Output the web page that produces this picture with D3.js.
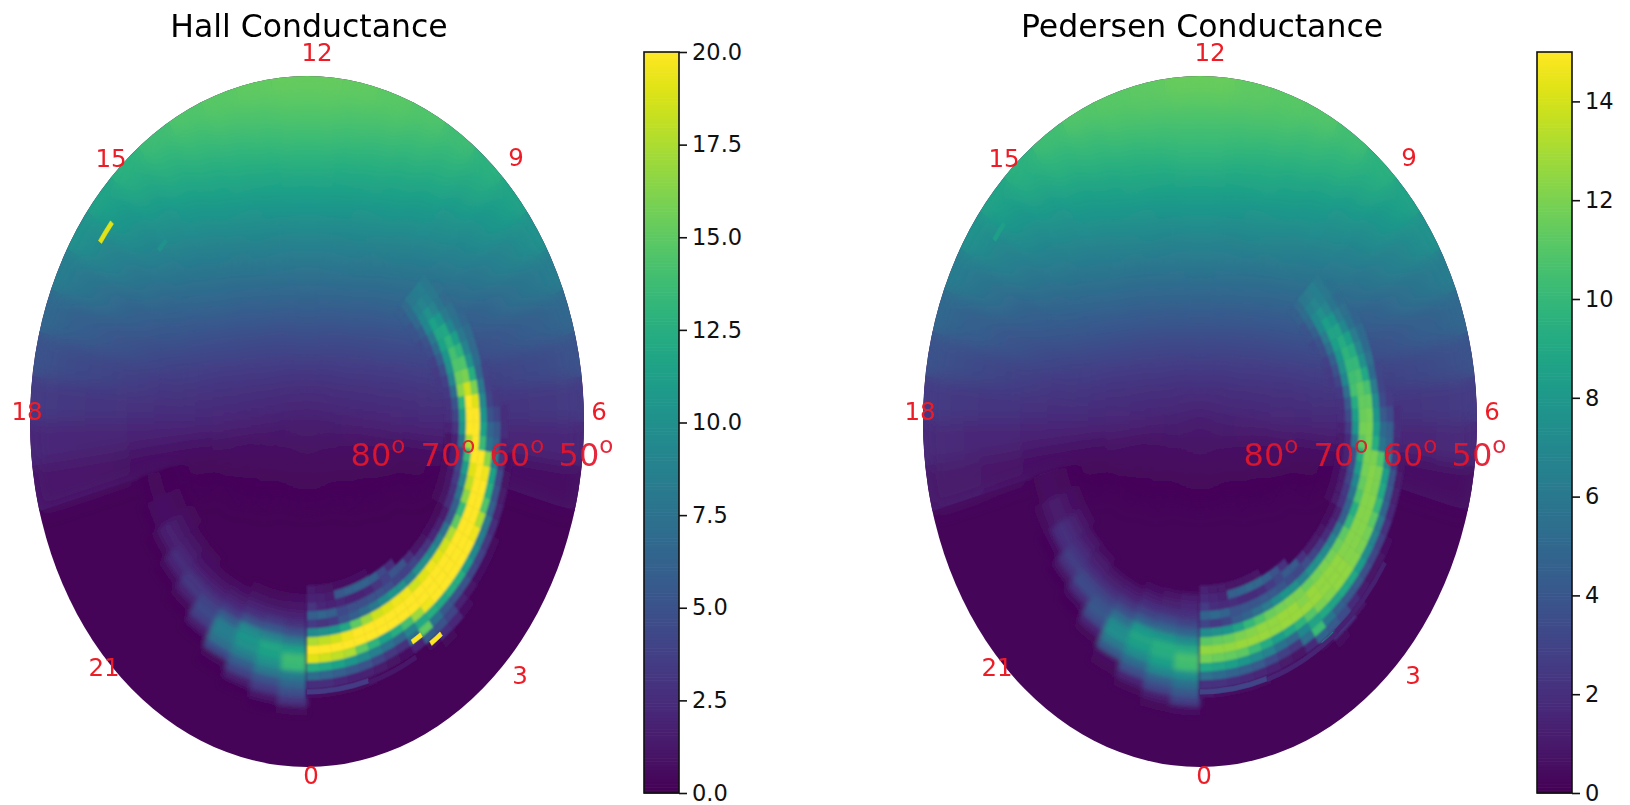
<!DOCTYPE html>
<html><head><meta charset="utf-8">
<script src="https://cdn.jsdelivr.net/npm/d3@7"></script>
<style>html,body{margin:0;background:#fff}svg{display:block}text{font-family:"DejaVu Sans",sans-serif}</style>
</head><body><svg id="c" width="1630" height="805"></svg>
<script>
// All conductance tables hold tenths of a mho.
const hourLabels = ["12","9","6","3","0","21","18","15"];
const latLabels = ["80","70","60","50"];
const hallTicks = [0,2.5,5,7.5,10,12.5,15,17.5,20];
const pedTicks = [0,2,4,6,8,10,12,14];
// Sunlit background: 48 half-hour sectors from MLT 0, rings of 2 deg from the pole; missing rings = night value.
const hallNight = 2, pedNight = 2;
const hallSun = [
[15,10,6,4,3],[15,10,6,4,3],[15,10,6,4,3],[15,10,7,4,3],[15,11,7,5,3,3],[15,11,8,5,4,3],[15,12,9,6,4,3,3],[16,13,10,7,6,4,3],
[16,14,12,9,7,6,4,3,3],[16,14,13,11,9,8,6,5,4,3],[16,15,14,13,12,11,10,9,8,8,7,6,6,7,8,8,8,8,8,8],
[17,17,18,18,18,18,19,19,19,20,20,20,20,21,21,21,21,22,22,22],
[17,18,19,20,21,22,23,24,25,26,27,28,29,30,31,31,32,33,34,35],
[17,19,21,23,24,25,27,29,30,32,33,35,37,39,40,42,44,46,48,50],
[18,20,22,24,27,29,31,33,36,38,41,44,47,50,52,55,58,60,64,67],
[18,21,24,26,29,33,35,39,42,46,50,53,57,60,64,68,72,76,80,84],
[18,22,25,28,32,35,40,44,49,53,57,62,67,72,76,81,86,91,96,101],
[19,23,26,30,35,39,44,49,54,59,65,71,76,82,87,93,99,104,110,116],
[19,22,27,32,37,42,48,53,59,66,72,78,84,91,97,103,109,116,122,128],
[19,23,28,33,39,45,51,57,64,71,78,85,91,98,105,112,119,126,132,138],
[20,24,29,34,41,47,54,61,68,75,82,90,97,105,112,119,126,133,139,145],
[20,24,29,35,42,49,55,63,71,79,86,94,102,109,117,125,131,138,144,148],
[20,25,30,36,43,50,57,65,73,81,88,96,104,112,120,128,135,141,146,151],
[20,25,30,37,44,51,58,66,74,82,90,98,106,114,122,130,137,143,148,153],
[20,25,30,37,44,51,58,66,74,82,90,98,106,114,122,130,137,143,148,153],
[20,25,30,36,43,50,57,65,73,81,88,96,104,112,120,128,135,141,146,151],
[20,24,29,35,42,49,55,63,71,79,86,94,102,109,117,125,131,138,144,148],
[20,24,29,34,41,47,54,61,68,75,82,90,97,105,112,119,126,133,139,145],
[19,23,28,33,39,45,51,57,64,71,78,85,91,98,105,112,119,126,132,138],
[19,22,27,32,37,42,48,53,59,66,72,78,84,91,97,103,109,116,122,128],
[19,23,26,30,35,39,44,49,54,59,65,71,76,82,87,93,99,104,110,116],
[18,22,25,28,32,35,40,44,49,53,57,62,67,72,76,81,86,91,96,101],
[18,21,24,26,29,33,35,39,42,46,50,53,57,60,64,68,72,76,80,84],
[18,20,22,24,27,29,31,33,36,38,41,44,47,50,52,55,58,60,64,67],
[17,19,21,23,24,25,27,29,30,32,33,35,37,39,40,42,44,46,48,50],
[17,18,19,20,21,22,23,24,25,26,27,28,29,30,31,31,32,33,34,35],
[17,17,18,18,18,18,19,19,19,20,20,20,20,21,21,21,21,22,22,22],
[15,14,13,12,12,11,10,9,9,8,8,8,9,10,11,12,13,13,13,13],
[16,14,13,11,9,8,6,5,4,3],[16,14,12,9,7,6,4,3,3],[16,13,10,7,6,4,3],[15,12,9,6,4,3,3],
[15,11,8,5,4,3],[15,11,7,5,3,3],[15,10,7,4,3],[15,10,6,4,3],[15,10,6,4,3],[15,10,6,4,3]];
const pedSun = [
[11,8,5,3,2],[11,8,5,3,2],[11,8,5,3,2],[11,8,5,3,2],[11,8,5,4,2,2],[11,8,6,4,3,2],[11,9,7,5,3,2,2],[12,10,8,5,5,3,2],
[12,11,9,7,5,5,3,2,2],[12,11,10,8,7,6,5,4,3,2],[12,11,11,10,9,8,8,7,6,6,5,5,5,5,6,6,6,6,6,6],
[13,13,14,14,14,14,14,14,14,15,15,15,15,16,16,16,16,17,17,17],
[13,14,14,15,16,17,17,18,19,20,20,21,22,23,23,23,24,25,26,26],
[13,14,16,17,18,19,20,22,23,24,25,26,28,29,30,32,33,35,36,38],
[14,15,17,18,20,22,23,25,27,29,31,33,35,38,39,41,44,45,48,50],
[14,16,18,20,22,25,26,29,32,35,38,40,43,45,48,51,54,57,60,63],
[14,17,19,21,24,26,30,33,37,40,43,47,50,54,57,61,65,68,72,76],
[14,17,20,23,26,29,33,37,41,44,49,53,57,62,65,70,74,78,83,87],
[14,17,20,24,28,32,36,40,44,50,54,59,63,68,73,77,82,87,92,96],
[14,17,21,25,29,34,38,43,48,53,59,64,68,74,79,84,89,95,99,104],
[15,18,22,26,31,35,41,46,51,56,62,68,73,79,84,89,95,100,104,109],
[15,18,22,26,32,37,41,47,53,59,65,71,77,82,88,94,98,104,108,111],
[15,19,23,27,32,38,43,49,55,61,66,72,78,84,90,96,101,106,110,113],
[15,19,23,28,33,38,44,50,56,62,68,74,80,86,92,98,103,107,111,115],
[15,19,23,28,33,38,44,50,56,62,68,74,80,86,92,98,103,107,111,115],
[15,19,23,27,32,38,43,49,55,61,66,72,78,84,90,96,101,106,110,113],
[15,18,22,26,32,37,41,47,53,59,65,71,77,82,88,94,98,104,108,111],
[15,18,22,26,31,35,41,46,51,56,62,68,73,79,84,89,95,100,104,109],
[14,17,21,25,29,34,38,43,48,53,59,64,68,74,79,84,89,95,99,104],
[14,17,20,24,28,32,36,40,44,50,54,59,63,68,73,77,82,87,92,96],
[14,17,20,23,26,29,33,37,41,44,49,53,57,62,65,70,74,78,83,87],
[14,17,19,21,24,26,30,33,37,40,43,47,50,54,57,61,65,68,72,76],
[14,16,18,20,22,25,26,29,32,35,38,40,43,45,48,51,54,57,60,63],
[14,15,17,18,20,22,23,25,27,29,31,33,35,38,39,41,44,45,48,50],
[13,14,16,17,18,19,20,22,23,24,25,26,28,29,30,32,33,35,36,38],
[13,14,14,15,16,17,17,18,19,20,20,21,22,23,23,23,24,25,26,26],
[13,13,14,14,14,14,14,14,14,15,15,15,15,16,16,16,16,17,17,17],
[11,11,10,9,9,8,8,7,7,6,6,6,7,8,8,9,10,10,10,10],
[12,11,10,8,7,6,5,4,3,2],[12,11,9,7,5,5,3,2,2],[12,10,8,5,5,3,2],[11,9,7,5,3,2,2],
[11,8,6,4,3,2],[11,8,5,4,2,2],[11,8,5,3,2],[11,8,5,3,2],[11,8,5,3,2],[11,8,5,3,2]];
// Auroral oval, 1 deg rings. Dawn sectors are quarter-hour, dusk sectors half-hour.
const dawnMlt = [0,.25,.5,.75,1,1.25,1.5,1.75,2,2.25,2.5,2.75,3,3.25,3.5,3.75,4,4.25,4.5,4.75,5,5.25,5.5,5.75,6,6.25,6.5,6.75,7,7.25,7.5,7.75,8,8.25,8.5,8.75];
const dawnFirst = [19,19,19,19,19,19,19,20,20,20,21,21,21,21,21,21,21,20,20,20,20,20,20,20,20,20,20,19,19,19,19,18,18,18,18,18];
const hallDawn = [
[15,20,30,60,35,95,175,205,190,125,70,25,8],[12,18,22,65,30,100,180,205,185,120,65,25,6],[10,15,20,60,35,105,185,205,180,115,60,22,5],
[8,55,22,45,50,120,195,205,175,105,55,20,5],[8,60,20,48,60,150,200,205,150,95,50,18,4],[8,62,20,48,70,170,205,205,130,85,40,14],
[8,62,22,50,80,185,205,200,115,75,32,10],[58,30,50,95,190,205,205,125,65,28,8],[45,38,48,105,195,205,205,140,90,70,20],
[25,52,40,100,195,205,205,170,120,150,60,5],[50,38,85,185,205,205,195,125,75,50,25,5],[25,42,100,190,205,205,200,120,55,40,22],
[12,35,100,195,205,205,205,125,50,18,8],[10,30,95,190,205,205,205,125,50,12],[8,22,85,185,205,205,205,110,42,8],
[6,18,75,175,205,205,200,95,38,8],[5,15,55,150,205,205,195,85,32,6],[5,10,25,60,135,200,205,175,80,25],
[5,10,28,75,165,205,205,145,60,18],[6,12,35,90,180,205,200,125,50,14],[6,14,40,110,190,205,195,115,45,10],
[8,15,45,135,200,205,165,85,30,8],[10,20,75,175,205,135,75,60,20],[20,30,105,205,205,115,65,55,25],
[27,40,115,205,200,105,50,40,25],[28,50,130,205,190,95,40,32],[33,70,165,185,160,80,38],
[33,38,90,155,160,125,65,40],[35,48,100,145,145,100,70],[38,58,105,140,130,88,68],
[46,70,115,130,112,80,70],[44,50,80,118,120,92,75,65],[50,58,92,115,105,82,74],
[52,66,92,100,90,78,68],[58,70,85,90,85,80,74],[60,68,80,83,85,80]];
const pedDawn = [
[14,18,26,48,30,72,112,125,118,90,55,22,8],[11,16,20,52,26,75,114,125,116,87,52,22,6],[10,14,18,48,30,78,116,125,114,84,48,20,5],
[8,45,20,38,42,87,120,127,112,78,45,18,5],[8,48,18,40,48,100,122,127,102,72,42,16,4],[8,50,18,40,55,108,125,127,92,66,34,14],
[8,50,20,42,62,116,125,125,84,56,28,10],[46,26,42,72,118,127,127,90,50,24,8],[38,32,40,78,120,127,127,97,69,55,18],
[22,42,34,75,120,122,127,110,87,102,48,5],[42,32,66,116,127,127,120,90,58,42,22,5],[22,36,75,118,125,125,122,87,45,34,20],
[11,30,75,120,125,125,125,90,42,18,8],[10,26,72,118,125,125,125,90,42,12],[8,20,66,116,122,122,122,82,36,8],
[6,16,58,112,122,122,120,72,32,8],[5,13,45,100,122,122,118,66,28,6],[5,10,22,48,94,122,122,112,60,22],
[5,10,25,58,108,122,122,100,48,16],[6,11,30,69,114,122,120,90,42,13],[6,13,34,82,118,122,120,84,38,10],
[8,14,38,94,120,120,108,66,26,8],[10,18,58,112,120,94,58,48,18],[15,26,78,118,120,84,52,45,20],
[20,34,84,116,118,78,42,34,20],[21,42,92,114,114,72,34,26],[25,55,105,112,106,62,30],
[25,30,69,104,106,90,52,32],[26,38,75,100,100,75,54],[29,45,78,97,92,68,52],
[35,55,84,92,84,62,52],[33,38,62,87,87,70,56,48],[38,44,70,84,78,62,55],
[39,50,70,75,68,58,52],[44,53,64,68,64,60,56],[45,51,60,62,64,60]];
const duskMlt = [19,19.5,20,20.5,21,21.5,22,22.5,23,23.5];
const duskFirst = [20,19,19,20,20,21,21,20,20,20];
const hallDusk = [
[3,3,4,5,3],[3,5,6,8,9,7,3],[4,7,10,14,18,15,6,2],[6,10,15,21,26,20,7,2],[4,8,13,20,30,32,18,5,2],
[6,12,20,30,40,45,36,15,3],[8,14,22,35,60,85,85,72,45,6,3],[5,10,18,28,50,95,105,100,85,60,40,15,3],
[6,10,18,32,55,90,118,115,100,80,50,35,12,3],[8,12,18,28,48,82,115,138,135,85,65,48,30,6]];
const pedDusk = [
[3,4,5,6,3],[4,6,8,10,11,8,4],[5,9,13,17,21,18,7,2],[8,12,17,23,28,22,8,2],[5,10,15,22,32,34,20,6,2],
[8,13,21,30,38,42,34,15,3],[9,15,24,36,55,72,74,60,42,6,3],[7,12,20,30,48,80,88,84,72,52,36,15,3],
[8,13,21,34,50,78,94,92,84,70,46,32,12,3],[12,16,22,30,48,72,92,106,104,74,56,42,28,6]];
// Thin streaks: start MLT, end MLT, colatitude, value.
const hallStreakStart = [15.38,14.93,2.05,2.32,0,1.1];
const hallStreakEnd   = [15.68,15.15,2.25,2.55,1.1,2];
const hallStreakColat = [36.4,29.2,29.7,31.3,31.3,31.5];
const hallStreakValue = [190,100,205,205,35,12];
const pedStreakStart = [15.4,2.3,0,1.2,2.6];
const pedStreakEnd   = [15.65,2.55,1.2,2.6,3.9];
const pedStreakColat = [36.4,31.3,31.3,31.4,31.3];
const pedStreakValue = [84,80,30,15,13];

const svg = d3.select("#c");
const defs = svg.append("defs");
const blurFilter = (id,s)=>defs.append("filter").attr("id",id).attr("x","-10%").attr("y","-10%").attr("width","120%").attr("height","120%").append("feGaussianBlur").attr("stdDeviation",s);
blurFilter("soft",9); blurFilter("crisp",1.1); blurFilter("dusk",2.6); blurFilter("tb",0.35);

const rx = 277, ry = 345.5, cy = 421.5, maxColat = 40;
const rScale = d3.scaleLinear().domain([0,maxColat]).range([0,rx]);
const angle = d3.scaleLinear().domain([0,24]).range([Math.PI,-Math.PI]);
const arc = d3.arc();
function cellPath(m0,m1,c0,c1){
  return arc({innerRadius:rScale(c0),outerRadius:rScale(c1),startAngle:angle(m1),endAngle:angle(m0)});
}
function panel(o){
  const color = d3.scaleSequential(d3.interpolateViridis).domain([0,o.max]).clamp(true);
  const col = v => color(v/10);
  const g = svg.append("g");
  g.append("text").attr("x",o.cx+2).attr("y",37).attr("text-anchor","middle").attr("font-size",o.titleSize).attr("filter","url(#tb)").text(o.title);
  const id = "clip"+o.key;
  defs.append("clipPath").attr("id",id).append("ellipse").attr("cx",o.cx).attr("cy",cy).attr("rx",rx).attr("ry",ry);
  const disc = g.append("g").attr("clip-path",`url(#${id})`);
  disc.append("ellipse").attr("cx",o.cx).attr("cy",cy).attr("rx",rx+2).attr("ry",ry+2).attr("fill",col(o.night));
  const cells = [];
  o.sun.forEach((row,i)=>row.forEach((v,j)=>cells.push({m0:i*.5,m1:(i+1)*.5,c0:j*2,c1:(j+1)*2,v})));
  const mesh = (parent,data)=>{
    parent.append("g").attr("transform",`translate(${o.cx},${cy}) scale(1,${ry/rx})`)
      .selectAll("path").data(data).join("path")
      .attr("d",d=>cellPath(d.m0,d.m1,d.c0,d.c1)).attr("fill",d=>col(d.v)).attr("stroke",d=>col(d.v)).attr("stroke-width",.5);
  };
  mesh(disc,cells);
  mesh(disc.append("g").attr("filter","url(#soft)"),cells);
  const duskCells = [], dawnCells = [];
  o.dusk.forEach((row,i)=>row.forEach((v,j)=>duskCells.push({m0:duskMlt[i],m1:duskMlt[i]+.5,c0:duskFirst[i]+j,c1:duskFirst[i]+j+1,v})));
  o.dawn.forEach((row,i)=>row.forEach((v,j)=>dawnCells.push({m0:dawnMlt[i],m1:dawnMlt[i]+.25,c0:dawnFirst[i]+j,c1:dawnFirst[i]+j+1,v})));
  mesh(disc.append("g").attr("filter","url(#dusk)"),duskCells);
  mesh(disc.append("g").attr("filter","url(#crisp)"),dawnCells);
  const streaks = o.sStart.map((s,i)=>({m0:s,m1:o.sEnd[i],c0:o.sColat[i]-.28,c1:o.sColat[i]+.28,v:o.sVal[i]}));
  mesh(disc,streaks);
  // hour labels
  const hx = [10,209,292,213,4,-203,-280,-196], hy=[52,157,411,675,775,667,411,158];
  const labelG = g.append("g").attr("filter","url(#tb)");
  labelG.selectAll(".h").data(hourLabels).join("text").attr("class","h")
    .attr("x",(d,i)=>o.cx+hx[i]).attr("y",(d,i)=>hy[i]).attr("text-anchor","middle").attr("dominant-baseline","central")
    .attr("font-size",24.5).attr("fill","#ee1c25").text(d=>d);
  const lx = [71,141,210,279];
  const lt = labelG.selectAll(".l").data(latLabels).join("text").attr("class","l")
    .attr("x",(d,i)=>o.cx+lx[i]).attr("y",466).attr("text-anchor","middle")
    .attr("font-size",32).attr("fill","#e3142a").attr("fill-opacity",.92);
  lt.append("tspan").text(d=>d);
  lt.append("tspan").attr("dy",-13).attr("font-size",23).text("o");
  // colour bar
  const y = d3.scaleLinear().domain([0,o.max]).range([793,52]);
  const bar = g.append("g");
  bar.selectAll("rect").data(d3.range(0,o.max,o.max/256)).join("rect")
    .attr("x",o.barX).attr("width",o.barW).attr("y",d=>y(d+o.max/256)).attr("height",d=>y(d)-y(d+o.max/256)+.6).attr("fill",d=>color(d+o.max/512));
  const axis = d3.axisRight(y).tickValues(o.ticks).tickSize(8).tickPadding(5).tickFormat(o.fmt);
  const ax = g.append("g").attr("transform",`translate(${o.barX+o.barW},0)`).call(axis);
  ax.select(".domain").remove();
  ax.selectAll("text").attr("font-size",22.5).attr("font-family","DejaVu Sans").attr("fill","#111");
  ax.selectAll("line").attr("stroke","#111").attr("stroke-width",1.6);
  bar.append("rect").attr("x",o.barX).attr("y",52).attr("width",o.barW).attr("height",741).attr("fill","none").attr("stroke","#111").attr("stroke-width",1.6);
}
panel({key:"h",title:"Hall Conductance",titleSize:31.5,cx:307,max:20,night:hallNight,sun:hallSun,dawn:hallDawn,dusk:hallDusk,
  sStart:hallStreakStart,sEnd:hallStreakEnd,sColat:hallStreakColat,sVal:hallStreakValue,barX:644,barW:35,ticks:hallTicks,fmt:d3.format(".1f")});
panel({key:"p",title:"Pedersen Conductance",titleSize:31.5,cx:1200,max:15,night:pedNight,sun:pedSun,dawn:pedDawn,dusk:pedDusk,
  sStart:pedStreakStart,sEnd:pedStreakEnd,sColat:pedStreakColat,sVal:pedStreakValue,barX:1537,barW:35,ticks:pedTicks,fmt:d3.format("d")});
</script></body></html>
